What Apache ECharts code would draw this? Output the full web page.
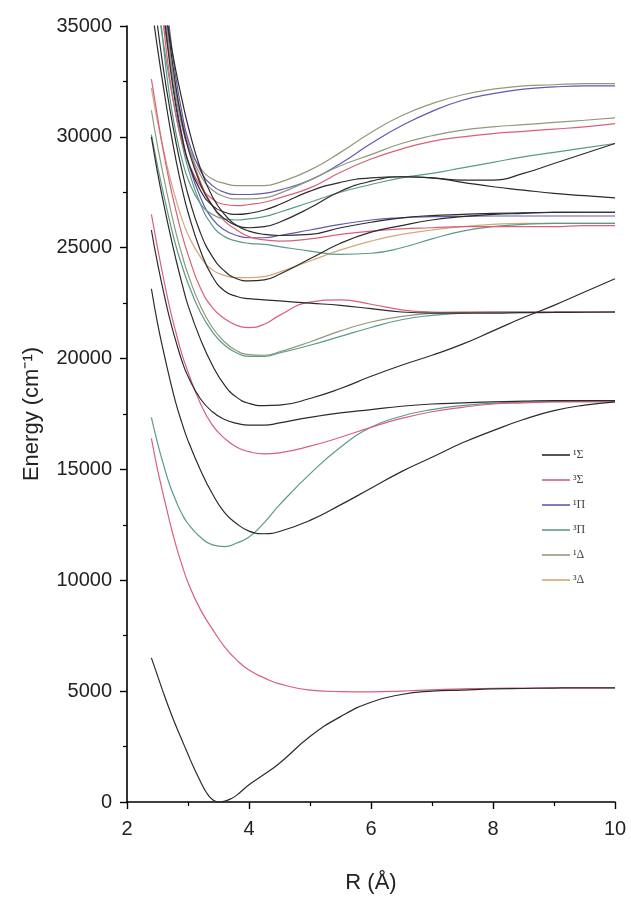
<!DOCTYPE html>
<html>
<head>
<meta charset="utf-8">
<script src="https://cdn.jsdelivr.net/npm/echarts@6/dist/echarts.min.js"></script>
<style>
  html, body { margin: 0; padding: 0; background: #fff; }
  #chart { width: 631px; height: 909px; }
</style>
</head>
<body>
<div id="chart"></div>
<script>
// Internuclear distance grid (Å)
const R = [2.4, 2.5, 2.6, 2.7, 2.8, 2.9, 3.0, 3.2, 3.4, 3.6, 3.8, 4.0, 4.25, 4.5, 5.0, 5.5, 6.0, 6.5, 7.0, 7.5, 8.0, 8.5, 9.0, 9.5, 10];
// Finer grid used for the ground state around its well
const R_ground = [2.4, 2.5, 2.6, 2.7, 2.8, 2.9, 3.0, 3.1, 3.2, 3.3, 3.4, 3.5, 3.6, 3.7, 3.8, 4.0, 4.25, 4.5, 5.0, 5.5, 6.0, 6.5, 7.0, 7.5, 8.0, 8.5, 9.0, 9.5, 10];

// Potential energy curves (cm^-1), one array per electronic state
const sig1_a = [6500, 5700, 4900, 4150, 3450, 2800, 2150, 1520, 950, 440, 110, 0, 40, 140, 310, 780, 1250, 1750, 2950, 3850, 4500, 4850, 5000, 5050, 5100, 5120, 5140, 5150, 5150];
const sig3_a = [16400, 15000, 13800, 12650, 11600, 10700, 9900, 8700, 7800, 7000, 6400, 5950, 5600, 5330, 5050, 4980, 4970, 5000, 5060, 5100, 5130, 5140, 5150, 5150, 5150];
const pi3_a  = [17350, 16200, 15200, 14300, 13600, 13000, 12550, 11950, 11600, 11520, 11680, 11950, 12600, 13400, 14800, 16000, 16900, 17400, 17700, 17880, 17980, 18030, 18060, 18080, 18100];
const sig1_b = [23150, 21600, 20300, 19100, 18000, 17100, 16300, 15000, 13900, 13050, 12550, 12220, 12100, 12200, 12700, 13400, 14150, 14900, 15550, 16200, 16750, 17250, 17650, 17900, 18050];
const sig3_b = [26500, 25000, 23600, 22300, 21200, 20200, 19400, 18000, 17000, 16400, 16000, 15800, 15700, 15750, 16050, 16450, 16900, 17300, 17600, 17800, 17950, 18000, 18050, 18050, 18050];
const sig1_c = [25800, 24300, 23000, 21800, 20800, 19900, 19200, 18200, 17600, 17250, 17080, 17000, 17000, 17100, 17350, 17550, 17700, 17850, 17950, 18000, 18050, 18080, 18100, 18100, 18100];
const sig1_d = [30000, 28400, 27000, 25700, 24500, 23400, 22400, 20900, 19700, 18800, 18250, 17980, 17880, 17900, 18200, 18650, 19200, 19700, 20150, 20650, 21250, 21850, 22400, 23000, 23600];
const pi3_b  = [30100, 28700, 27400, 26200, 25100, 24200, 23400, 22100, 21200, 20600, 20250, 20100, 20100, 20250, 20600, 21000, 21400, 21750, 21950, 22050, 22100, 22100, 22100, 22100, 22100];
const del1_a = [31200, 29600, 28200, 26900, 25700, 24700, 23800, 22400, 21400, 20750, 20350, 20180, 20150, 20300, 20750, 21250, 21650, 21900, 22050, 22100, 22100, 22100, 22100, 22100, 22100];
const sig3_c = [32600, 30900, 29300, 27900, 26700, 25600, 24700, 23200, 22300, 21800, 21500, 21400, 21550, 21950, 22550, 22650, 22450, 22200, 22100, 22080, 22080, 22090, 22100, 22100, 22100];
const sig1_e = [36000, 34000, 32200, 30500, 29000, 27700, 26600, 24900, 23700, 23050, 22800, 22700, 22650, 22600, 22500, 22400, 22250, 22100, 22050, 22050, 22050, 22070, 22080, 22090, 22100];
const del3_a = [32200, 30700, 29400, 28200, 27200, 26300, 25600, 24600, 24000, 23750, 23650, 23650, 23700, 23900, 24400, 24900, 25300, 25600, 25800, 25950, 26050, 26100, 26100, 26100, 26100];
const sig1_f = [37000, 35000, 33000, 31300, 29800, 28500, 27400, 25700, 24600, 23950, 23600, 23500, 23550, 23800, 24500, 25200, 25700, 26000, 26250, 26400, 26500, 26550, 26600, 26600, 26600];
const pi3_c  = [38000, 36000, 34200, 32500, 31000, 29700, 28600, 27000, 26000, 25500, 25300, 25200, 25150, 25050, 24850, 24700, 24750, 25000, 25400, 25750, 25950, 26050, 26100, 26100, 26100];
const sig1_g = [40000, 38000, 36200, 34500, 33000, 31700, 30500, 28600, 27300, 26500, 26000, 25750, 25600, 25550, 25600, 25900, 26150, 26350, 26450, 26500, 26550, 26570, 26590, 26600, 26600];
const sig3_d = [39000, 37000, 35200, 33600, 32100, 30800, 29700, 28000, 26900, 26200, 25800, 25500, 25350, 25300, 25400, 25600, 25750, 25850, 25900, 25950, 25950, 25950, 25950, 26000, 26000];
const pi1_a  = [41500, 38500, 35800, 33500, 31600, 30100, 28900, 27300, 26300, 25800, 25550, 25450, 25450, 25550, 25800, 26050, 26250, 26350, 26400, 26420, 26430, 26430, 26430, 26430, 26430];
const del1_b = [46000, 40500, 36600, 33800, 31900, 30500, 29600, 28600, 28100, 27900, 27800, 27800, 27800, 27950, 28500, 29300, 30200, 30950, 31500, 31900, 32150, 32300, 32350, 32400, 32400];
const pi1_b  = [48000, 42000, 37800, 34800, 32700, 31100, 29900, 28500, 27800, 27500, 27400, 27400, 27450, 27600, 28050, 28800, 29700, 30500, 31150, 31650, 31950, 32150, 32250, 32300, 32300];
const del1_c = [45000, 40000, 36500, 33900, 32000, 30600, 29600, 28300, 27600, 27300, 27200, 27200, 27250, 27450, 28050, 28700, 29200, 29700, 30050, 30300, 30450, 30550, 30650, 30750, 30860];
const sig3_e = [42000, 38000, 35000, 32700, 31000, 29800, 28900, 27800, 27200, 26950, 26900, 26950, 27050, 27250, 27700, 28400, 29000, 29450, 29800, 30000, 30150, 30250, 30350, 30450, 30600];
const pi3_d  = [41000, 37000, 34000, 31800, 30200, 29000, 28100, 27000, 26500, 26300, 26250, 26300, 26400, 26600, 27050, 27500, 27850, 28150, 28350, 28600, 28850, 29100, 29300, 29500, 29700];
const sig1_h = [43000, 39000, 35800, 33300, 31400, 30000, 28900, 27600, 26900, 26600, 26500, 26550, 26700, 26950, 27550, 27950, 28150, 28200, 28150, 28050, 28050, 28350, 28800, 29250, 29700];
const sig1_i = [44000, 40000, 36800, 34300, 32300, 30700, 29500, 27900, 26900, 26300, 26000, 25900, 25950, 26150, 26800, 27550, 28000, 28200, 28150, 27950, 27750, 27600, 27450, 27350, 27250];

// Symmetry labels (legend order)
const stateNames = ['\u00B9\u03A3', '\u00B3\u03A3', '\u00B9\u03A0', '\u00B3\u03A0', '\u00B9\u0394', '\u00B3\u0394'];
const stateColors = ['#2b2b2b', '#d9607a', '#6458b0', '#5c9a88', '#8f9a7c', '#d4a878'];

// Each curve: [state index, energies, distance grid]
const curves = [
  [0, sig1_a, R_ground], [1, sig3_a, R], [2, pi1_a, R], [3, pi3_a, R], [4, del1_a, R], [5, del3_a, R],
  [0, sig1_b, R], [1, sig3_b, R], [0, sig1_c, R], [0, sig1_d, R], [3, pi3_b, R], [1, sig3_c, R],
  [0, sig1_e, R], [0, sig1_f, R], [3, pi3_c, R], [0, sig1_g, R], [1, sig3_d, R],
  [4, del1_b, R], [2, pi1_b, R], [4, del1_c, R], [1, sig3_e, R], [3, pi3_d, R], [0, sig1_h, R], [0, sig1_i, R]
];

const series = curves.map(([k, E, grid]) => ({
  name: stateNames[k],
  type: 'line',
  data: grid.map((r, i) => [r, E[i]]),
  symbol: 'none',
  smooth: 0.5,
  clip: true,
  lineStyle: { color: stateColors[k], width: 1.2 },
  itemStyle: { color: stateColors[k] },
  z: k === 0 ? 3 : 2
}));

const chart = echarts.init(document.getElementById('chart'), null, { renderer: 'canvas' });
chart.setOption({
  animation: false,
  backgroundColor: '#ffffff',
  grid: { left: 127, right: 16, top: 26, bottom: 107, containLabel: false },
  legend: {
    data: stateNames,
    orient: 'vertical',
    left: 537,
    top: 444,
    icon: 'rect',
    itemWidth: 28,
    itemHeight: 1.6,
    itemGap: 13,
    textStyle: { fontFamily: 'Liberation Serif', fontSize: 12, color: '#444', padding: [0, 0, 0, -2] }
  },
  xAxis: {
    type: 'value',
    min: 2, max: 10, interval: 2,
    name: 'R (\u00C5)',
    nameLocation: 'middle',
    nameGap: 70,
    nameTextStyle: { fontFamily: 'Liberation Sans', fontSize: 22, color: '#222' },
    axisLine: { show: true, onZero: false, lineStyle: { color: '#000', width: 1.6 } },
    axisTick: { show: true, inside: false, length: 7, lineStyle: { color: '#000', width: 1.4 } },
    minorTick: { show: true, splitNumber: 2, length: 4, lineStyle: { color: '#000', width: 1.2 } },
    axisLabel: { fontFamily: 'Liberation Sans', fontSize: 20, color: '#222', margin: 17 },
    splitLine: { show: false }
  },
  yAxis: {
    type: 'value',
    min: 0, max: 35000, interval: 5000,
    name: 'Energy (cm\u207B\u00B9)',
    nameLocation: 'middle',
    nameGap: 84,
    nameRotate: 90,
    nameTextStyle: { fontFamily: 'Liberation Sans', fontSize: 22, color: '#222' },
    axisLine: { show: true, onZero: false, lineStyle: { color: '#000', width: 1.6 } },
    axisTick: { show: true, inside: false, length: 7, lineStyle: { color: '#000', width: 1.4 } },
    minorTick: { show: true, splitNumber: 2, length: 4, lineStyle: { color: '#000', width: 1.2 } },
    axisLabel: { fontFamily: 'Liberation Sans', fontSize: 20, color: '#222', margin: 15, formatter: v => String(v) },
    splitLine: { show: false }
  },
  series: series
});
</script>
</body>
</html>
